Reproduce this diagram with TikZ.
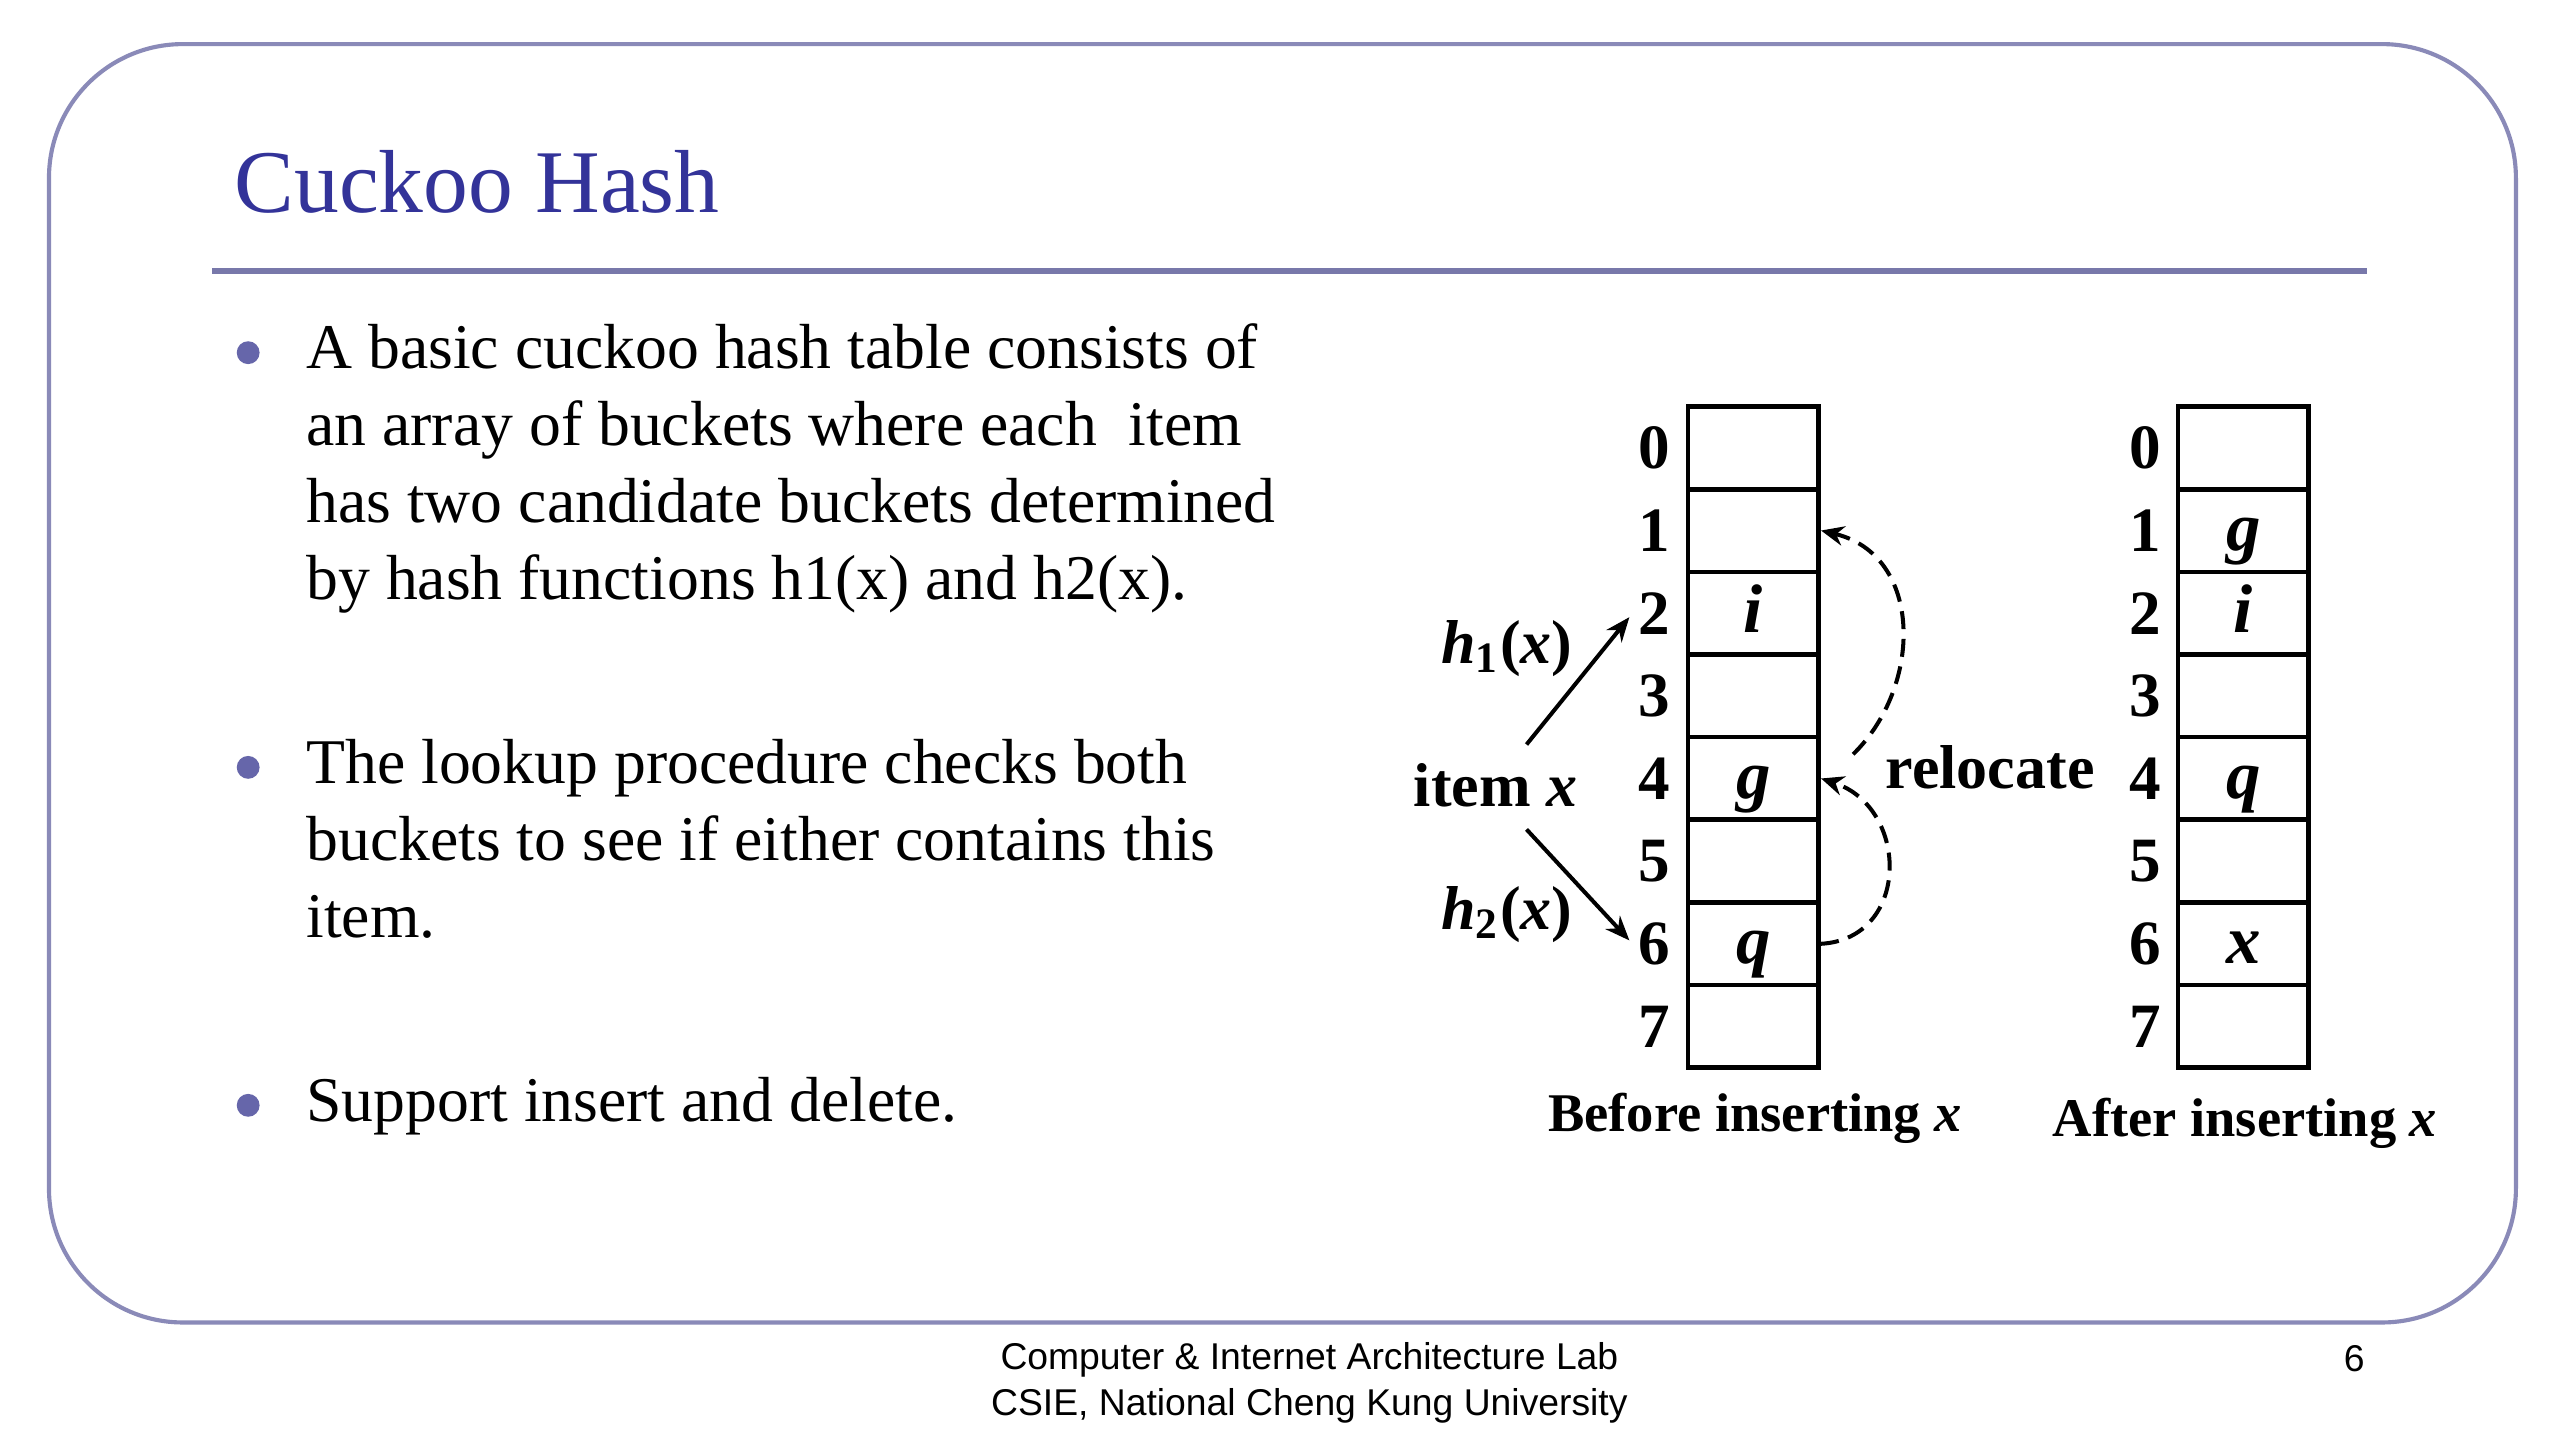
\documentclass[tikz,border=0pt]{standalone}
\usepackage{fontspec}
\setmainfont{Liberation Serif}
\newfontfamily\sansf{Liberation Sans}
\usetikzlibrary{arrows.meta}
\definecolor{titleblue}{RGB}{51,51,153}
\definecolor{framec}{RGB}{138,138,184}
\definecolor{rulec}{RGB}{120,120,170}
\definecolor{bulletc}{RGB}{102,102,170}
\begin{document}
\begin{tikzpicture}[x=0.1mm,y=-0.1mm,
 bodytext/.style={anchor=base west,inner sep=0pt,font=\fontsize{11.1}{13}\selectfont},
 bul/.style={circle,fill=bulletc,inner sep=0pt,minimum size=1.4mm},
 cellbox/.style={draw,line width=0.8pt,minimum width=8mm,minimum height=5.06mm,inner sep=0pt,
   text height=3mm,text depth=0.6mm,font=\fontsize{12}{12}\selectfont\bfseries\itshape},
 idx/.style={font=\fontsize{11}{11}\selectfont\bfseries,inner sep=0pt},
 dlabel/.style={font=\fontsize{10.8}{11}\selectfont\bfseries,inner sep=0pt},
 caption/.style={font=\fontsize{9.5}{10}\selectfont\bfseries,inner sep=0pt},
 arr/.style={line width=0.7pt,-{Stealth[length=1.5mm,width=1.2mm]}},
 darr/.style={line width=0.7pt,dash pattern=on 1.1mm off 0.6mm,-{Stealth[length=1.4mm,width=1.2mm]}},
 foot/.style={font=\sansf\fontsize{6.5}{7}\selectfont,inner sep=0pt}]

\useasboundingbox (0,0) rectangle (1568,882);
\fill[white] (0,0) rectangle (1568,882);

% frame, title, rule
\draw[framec,line width=0.72pt,rounded corners=8.2mm] (30,27) rectangle (1541,810);
\node[anchor=base west,inner sep=0pt,text=titleblue,font=\fontsize{15.6}{16}\selectfont] (title) at (143,130) {Cuckoo Hash};
\draw[rulec,line width=1.1pt] (130,166) -- (1450,166);

% bullets
\node[bul] (b1) at (152,216) {};
\node[bul] (b2) at (152,470) {};
\node[bul] (b3) at (152,677) {};
\node[bodytext] (t1) at (187,226) {A basic cuckoo hash table consists of};
\node[bodytext] (t2) at (187,273) {an array of buckets where each~ item};
\node[bodytext] (t3) at (187,320) {has two candidate buckets determined};
\node[bodytext] (t4) at (187,367) {by hash functions h1(x) and h2(x).};
\node[bodytext] (t5) at (187,480) {The lookup procedure checks both};
\node[bodytext] (t6) at (187,527) {buckets to see if either contains this};
\node[bodytext] (t7) at (187,574) {item.};
\node[bodytext] (t8) at (187,687) {Support insert and delete.};

% tables
\foreach \i/\a/\b in {0//,1//g,2/i/i,3//,4/g/q,5//,6/q/x,7//} {
  \pgfmathsetmacro\yy{249+50.625*(\i+0.5)}
  \node[cellbox] (L\i) at (1074,\yy) {\a};
  \node[cellbox] (R\i) at (1374,\yy) {\b};
  \node[idx] (DL\i) at (1013,\yy) {\i};
  \node[idx] (DR\i) at (1314,\yy) {\i};
}

% labels
\node[dlabel] (item) at (916,481) {item \textit{x}};
\node[dlabel] (h1) at (923,397) {\textit{h}\textsubscript{1}(\textit{x})};
\node[dlabel] (h2) at (923,560) {\textit{h}\textsubscript{2}(\textit{x})};
\node[dlabel] (reloc) at (1219,470) {relocate};
\node[caption] (before) at (1075,685) {Before inserting \textit{x}};
\node[caption] (after) at (1375,688) {After inserting \textit{x}};

% arrows
\coordinate (h1s) at (935,456);
\coordinate (h1e) at (998,378);
\coordinate (h2s) at (935,508);
\coordinate (h2e) at (998,576);
\draw[arr] (h1s) -- (h1e);
\draw[arr] (h2s) -- (h2e);
\draw[darr] (L6.east) .. controls (1170,575) and (1170,495) .. (L4.east);
\coordinate (u0) at (1135,462);
\draw[darr] (u0) .. controls (1178,420) and (1178,340) .. (L1.east);

% footer
\node[foot] (f1) at (802,833) {Computer \& Internet Architecture Lab};
\node[foot] (f2) at (802,861) {CSIE, National Cheng Kung University};
\node[foot] (pg) at (1442,832) {6};
\end{tikzpicture}
\end{document}
